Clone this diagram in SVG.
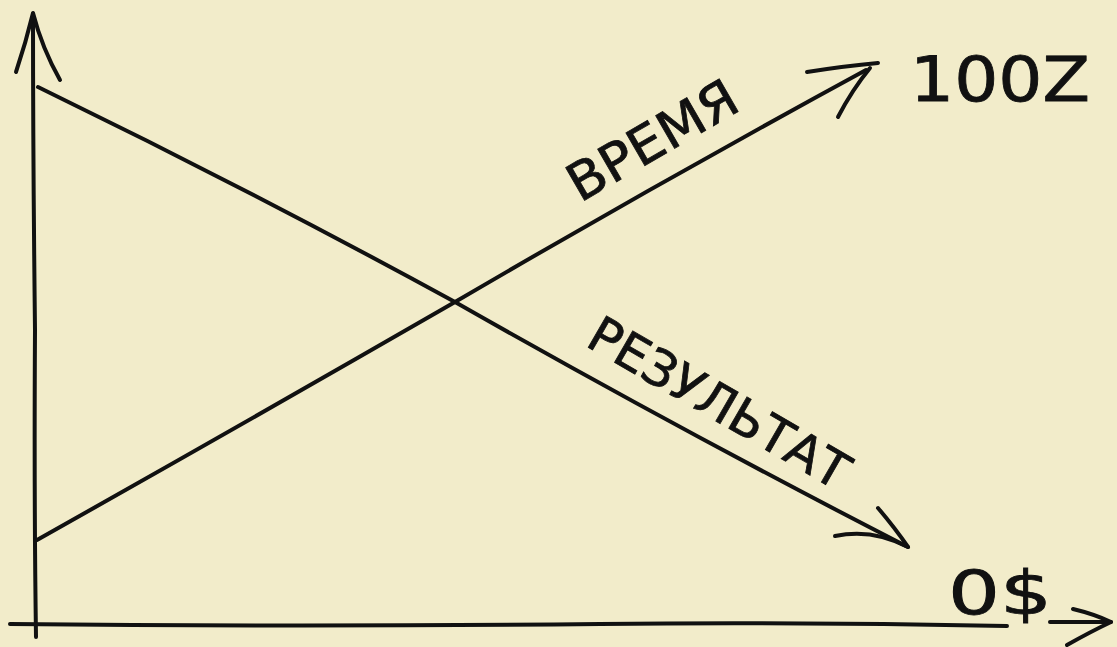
<svg xmlns="http://www.w3.org/2000/svg" width="1117" height="647" viewBox="0 0 1117 647">
  <style>
    .ink { fill: none; stroke: #111; stroke-width: 4; stroke-linecap: round; stroke-linejoin: round; }
    .lbl { fill: #111; stroke: #111; stroke-width: 0.8; font-family: "DejaVu Sans", "Liberation Sans", sans-serif; font-weight: normal; }
  </style>
  <rect width="1117" height="647" fill="#f2ecca"/>
  <g id="axes">
    <path class="ink" d="M36,637 Q34,500 35,330 Q33,160 33,14"/>
    <path class="ink" d="M16,72 Q26,42 33,13 Q42,48 60,80"/>
    <path class="ink" d="M10,624 Q300,627 600,624 Q800,622 1007,626"/>
    <path class="ink" d="M1050,622 L1111,622"/>
    <path class="ink" d="M1073,609 Q1094,614 1111,622 Q1090,632 1067,645"/>
  </g>
  <g id="connectors">
    <path class="ink" d="M37,540 Q250,420 455,302 Q660,182 866,70"/>
    <path class="ink" d="M807,72 Q845,66 878,63"/>
    <path class="ink" d="M838,117 Q852,90 870,68"/>
    <path class="ink" d="M38,87 Q250,190 455,302 Q680,430 906,546"/>
    <path class="ink" d="M878,508 Q895,528 908,547"/>
    <path class="ink" d="M835,536 Q872,528 908,547"/>
  </g>
  <g id="label-time">
    <text class="lbl" font-size="52" transform="translate(580,203) rotate(-30)" textLength="188" lengthAdjust="spacingAndGlyphs">ВРЕМЯ</text>
  </g>
  <g id="label-result">
    <text class="lbl" font-size="50" transform="translate(584,345) rotate(30)" textLength="292" lengthAdjust="spacingAndGlyphs">РЕЗУЛЬТАТ</text>
  </g>
  <g id="label-100z">
    <text class="lbl" font-size="62" x="910" y="101" textLength="180" lengthAdjust="spacingAndGlyphs">100Z</text>
  </g>
  <g id="label-0usd">
    <text class="lbl" font-size="60" x="948" y="614" textLength="104" lengthAdjust="spacingAndGlyphs">0$</text>
  </g>
</svg>
